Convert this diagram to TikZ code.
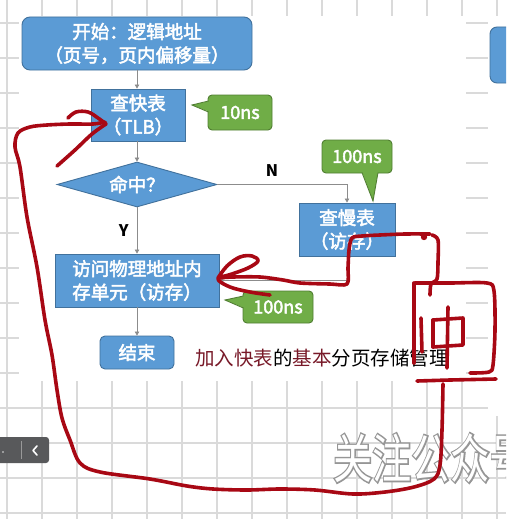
\documentclass[tikz,border=0pt]{standalone}
\usepackage{fontspec}
\newfontfamily\cjk{Noto Sans CJK SC}
\newfontfamily\cjkb[FakeBold=2.6]{Noto Sans CJK SC}
\newfontfamily\cjkwm[FakeBold=6]{Noto Sans CJK SC}
\usetikzlibrary{shapes.geometric,arrows.meta}
\definecolor{boxblue}{RGB}{91,155,213}
\definecolor{boxline}{RGB}{65,113,156}
\definecolor{cgreen}{RGB}{112,173,71}
\definecolor{cline}{RGB}{80,126,50}
\definecolor{gridc}{RGB}{218,218,218}
\definecolor{hred}{RGB}{168,8,20}
\definecolor{connc}{RGB}{140,140,140}
\definecolor{capred}{RGB}{120,25,40}
\definecolor{barc}{RGB}{88,89,91}
\definecolor{wmgray}{RGB}{150,150,150}
\begin{document}
\begin{tikzpicture}[x=1pt,y=-1pt,
 box/.style={draw=boxline,fill=boxblue,line width=0.9pt,text=white,align=center,inner sep=0pt,font=\cjkb\fontsize{18.5}{23.5}\selectfont},
 callout/.style={draw=cline,fill=cgreen,line width=0.9pt,rounded corners=4pt,text=white,inner sep=0pt,font=\cjkb\fontsize{18}{20}\selectfont},
 ptr/.style={fill=cgreen},
 ptrline/.style={draw=cline,line width=0.9pt},
 conn/.style={draw=connc,line width=0.7pt,-{Triangle[width=4.5pt,length=4pt]}},
 hand/.style={draw=hred,line width=3.6pt,line cap=round,line join=round},
 yn/.style={font=\cjk\bfseries\fontsize{16}{18}\selectfont,text=black,inner sep=0pt},
 gridline/.style={draw=gridc,line width=1.2pt},
 wm/.style={anchor=west,inner sep=0pt}
]
\useasboundingbox (0,0) rectangle (506,519);
\begin{scope}
\clip (0,0) rectangle (506,519);
% background and grid
\fill[white] (0,0) rectangle (506,519);
\foreach \gx in {7,42,...,500} \draw[gridline] (\gx,0) -- (\gx,519);
\foreach \gy in {23,58,...,519} \draw[gridline] (0,\gy) -- (506,\gy);
\fill[white] (19,16) rectangle (466,381);
\fill[white] (488,16) rectangle (506,416);
% partial box at right
\draw[draw=boxline,fill=boxblue,line width=0.9pt,rounded corners=7pt] (490,27) rectangle (520,83);

% flowchart boxes
\node[box,rounded corners=8pt,minimum width=230pt,minimum height=53pt] (start) at (137,43.5) {开始：逻辑地址\\（页号，页内偏移量）};
\node[box,minimum width=94pt,minimum height=52pt] (tlb) at (138,115) {查快表\\（TLB）};
\node[box,diamond,shape aspect=3.5,minimum width=160pt,minimum height=45pt] (hit) at (137,184.5) {命中？};
\node[box,minimum width=96pt,minimum height=53pt] (slow) at (347,229.5) {查慢表\\（访存）};
\node[box,minimum width=164pt,minimum height=53pt] (acc) at (137,280.5) {访问物理地址内\\存单元（访存）};
\node[box,rounded corners=5pt,minimum width=74pt,minimum height=33pt] (end) at (137,352.5) {结束};

% connectors
\draw[conn] (start.south) -- (tlb.north -| start.south);
\draw[conn] (tlb.south -| hit.north) -- (hit.north);
\draw[conn] (hit.east) -| node[yn,pos=0.21,above=8pt]{N} (slow.north);
\draw[conn] (hit.south) -- node[yn,left=8pt]{Y} (acc.north);
\draw[conn] (acc.south) -- (end.north);
\draw[conn] (slow.south) |- (acc.east);

% callouts
\node[callout,minimum width=64pt,minimum height=35pt] (c1) at (240,112.5) {10ns};
\coordinate (c1tip) at (192,105);
\fill[ptr] (210,101) -- (c1tip) -- (210,112) -- cycle;
\draw[ptrline] (208.5,101) -- (c1tip) -- (208.5,112);

\node[callout,minimum width=70pt,minimum height=33pt] (c2) at (357,156.5) {100ns};
\coordinate (c2tip) at (373,201);
\fill[ptr] (362,171.5) -- (c2tip) -- (378,171.5) -- cycle;
\draw[ptrline] (362,172.6) -- (c2tip) -- (378,172.6);

\node[callout,minimum width=70pt,minimum height=32pt] (c3) at (278,307) {100ns};
\coordinate (c3tip) at (225,300);
\fill[ptr] (244.5,296) -- (c3tip) -- (244.5,308) -- cycle;
\draw[ptrline] (243.4,296) -- (c3tip) -- (243.4,308);

% caption
\node[anchor=west,inner sep=0pt,font=\cjk\fontsize{19.5}{20}\selectfont] (cap) at (195,358) {\textcolor{capred}{加入快表}的\textcolor{capred}{基本}分页存储管理};

% toolbar
\fill[barc,rounded corners=3pt] (-6,437) rectangle (49,463);
\draw[gray!80,line width=0.6pt] (21,441) -- (21,459);
\draw[white,line width=1.6pt,line cap=round,line join=round] (37,446) -- (33,450.5) -- (37,455);
\fill[white!75!gray] (3,452) circle (0.9);

% watermark: grey emboldened copy under a white copy gives the outlined look
\node[wm,text=wmgray,font=\cjkwm\fontsize{44}{44}\selectfont] (wmo) at (333,458) {\scalebox{0.89}[1.2]{关注公众号}};
\node[wm,text=white,font=\cjk\fontsize{44}{44}\selectfont] (wmk) at (333,458) {\scalebox{0.89}[1.2]{关注公众号}};

% red handwriting
\draw[hand] plot[smooth,tension=0.55] coordinates {(443,384) (442,430) (440,465) (434,479) (414,487) (385,492) (353,494) (315,490) (280,489) (247,490) (213,489) (187,486) (150,479) (100,472) (80,463) (70,440) (62,418) (57,390) (52,355) (45,320) (37,267) (27,217) (20,167) (15,147) (18,133) (30,127) (47,125) (70,124) (93,124) (105,122)};
\draw[hand] plot[smooth,tension=0.6] coordinates {(68,118) (76,112) (88,112) (98,118) (106,124)};
\draw[hand] plot[smooth,tension=0.6] coordinates {(106,124) (92,134) (75,150) (57,166)};

\draw[hand] plot[smooth,tension=0.5] coordinates {(430,234) (405,234) (380,235) (362,236) (352,238) (349,250) (348,268) (347,284) (330,284) (300,283) (283,280) (260,277) (233,277) (218,278)};
\draw[hand] plot[smooth,tension=0.6] coordinates {(218,278) (227,266) (240,257) (252,256) (258,261) (248,268) (232,274) (218,279) (230,287) (250,292) (270,295)};
\fill[hred] (424,237) circle (3.2);

\draw[hand] plot[smooth,tension=0.5] coordinates {(432,235) (438,240) (438,262) (437,279) (431,284) (430,295)};
\draw[hand] (414,283) -- (414,363);
\draw[hand] plot[smooth,tension=0.5] coordinates {(415,283) (450,283) (487,283) (494,291) (495,330) (493,365) (489,372) (470,373)};
\draw[hand] (417,381) -- (450,380) -- (496,379);
\draw[hand] (421,318) -- (422,352);
\draw[hand] (433,320) -- (433,347);
\draw[hand] (433,320) -- (463,318) -- (463,345) -- (433,347);
\draw[hand] (448,307) -- (447,368);
\end{scope}
\end{tikzpicture}
\end{document}
